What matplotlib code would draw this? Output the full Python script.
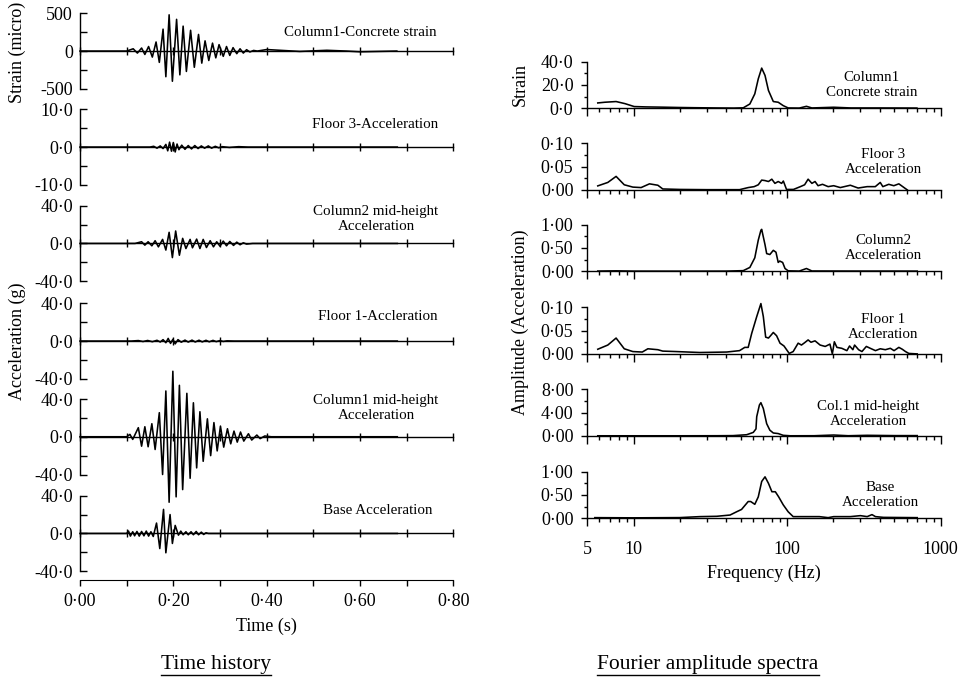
import matplotlib
matplotlib.use("Agg")
import matplotlib.pyplot as plt
from matplotlib.ticker import FixedLocator, FuncFormatter, NullFormatter
from matplotlib.lines import Line2D

plt.rcParams['font.family'] = ['Liberation Serif', 'DejaVu Serif']

W, H = 964, 678

# ---------------- time histories: turning points (time s, value) ----------------
strain_t = [0.0, 0.100, 0.114, 0.123, 0.132, 0.139, 0.147, 0.155, 0.163, 0.170, 0.178, 0.184,
            0.191, 0.198, 0.207, 0.214, 0.221, 0.228, 0.237, 0.245, 0.254, 0.261, 0.268, 0.276,
            0.284, 0.291, 0.298, 0.307, 0.314, 0.321, 0.328, 0.336, 0.343, 0.350, 0.357, 0.364,
            0.372, 0.380, 0.400, 0.457, 0.471, 0.529, 0.571, 0.600, 0.679]
strain_v = [0, 0, 30, -27, 40, -45, 60, -80, 120, -150, 290, -340,
            480, -400, 420, -315, 330, -270, 275, -215, 220, -160, 135, -125,
            105, -90, 85, -70, 60, -58, 45, -35, 30, -27, 18, -12,
            8, 0, 20, 0, -5, 10, 0, -10, 0]

floor3_t = [0.0, 0.150, 0.158, 0.165, 0.172, 0.178, 0.184, 0.188, 0.192, 0.196, 0.200, 0.204,
            0.208, 0.212, 0.218, 0.225, 0.232, 0.239, 0.246, 0.253, 0.260, 0.267, 0.275, 0.282,
            0.290, 0.297, 0.305, 0.320, 0.340, 0.360, 0.680]
floor3_v = [0, 0, 0.2, -0.3, 0.3, -0.4, 0.7, -1.0, 1.3, -1.1, 1.2, -1.3,
            0.8, -0.7, 0.5, -0.6, 0.4, -0.5, 0.4, -0.4, 0.3, -0.3, 0.3, -0.3,
            0.2, -0.2, 0.1, -0.1, 0.1, 0, 0]

col2_t = [0.0, 0.118, 0.132, 0.139, 0.146, 0.154, 0.161, 0.168, 0.177, 0.184, 0.191, 0.198,
          0.205, 0.213, 0.220, 0.227, 0.236, 0.241, 0.250, 0.257, 0.264, 0.271, 0.279, 0.286,
          0.293, 0.300, 0.307, 0.314, 0.321, 0.329, 0.336, 0.343, 0.350, 0.357, 0.370, 0.680]
col2_v = [0, 0, 1.8, -1.8, 1.8, -2.5, 2.9, -3.6, 4.3, -7.0, 11.8, -15.0,
          13.2, -12.5, 5.4, -5.4, 4.3, -4.6, 4.6, -5.4, 4.3, -4.3, 2.9, -3.6,
          1.8, -2.9, 2.5, -2.5, 2.1, -2.1, 1.4, -1.4, 0.7, -0.7, 0, 0]

floor1_t = [0.0, 0.110, 0.125, 0.135, 0.145, 0.155, 0.165, 0.172, 0.178, 0.184, 0.189, 0.194,
            0.199, 0.204, 0.210, 0.217, 0.225, 0.232, 0.240, 0.247, 0.255, 0.262, 0.270, 0.277,
            0.285, 0.292, 0.300, 0.307, 0.315, 0.330, 0.680]
floor1_v = [0, 0, 0.5, -0.5, 0.6, -0.7, 0.8, -1.0, 1.5, -1.8, 2.8, -2.5,
            1.8, -3.0, 1.5, -1.2, 1.0, -1.1, 1.0, -1.0, 0.9, -0.9, 0.8, -0.8,
            0.7, -0.6, 0.5, -0.4, 0.2, 0, 0]

col1_t = [0.0, 0.100, 0.107, 0.113, 0.125, 0.132, 0.139, 0.146, 0.154, 0.161, 0.170, 0.177,
          0.184, 0.191, 0.199, 0.206, 0.213, 0.220, 0.229, 0.236, 0.243, 0.250, 0.257, 0.264,
          0.273, 0.280, 0.287, 0.294, 0.301, 0.308, 0.316, 0.323, 0.330, 0.337, 0.344, 0.351,
          0.361, 0.368, 0.379, 0.386, 0.396, 0.410, 0.680]
col1_v = [0, 0, 2.5, -2.8, 9.6, -10.0, 10.6, -10.6, 13.8, -13.5, 25.5, -40.0,
          48.5, -69.4, 69.4, -63.7, 54.5, -56.0, 46.0, -44.0, 36.0, -33.0, 26.5, -26.0,
          19.0, -20.0, 15.0, -15.0, 11.3, -11.0, 8.5, -7.5, 6.0, -5.7, 5.0, -4.6,
          3.2, -3.5, 1.8, -2.0, 0.8, 0, 0]

base_t = [0.0, 0.100, 0.104, 0.108, 0.113, 0.117, 0.122, 0.127, 0.132, 0.137, 0.142, 0.147,
          0.152, 0.157, 0.164, 0.171, 0.179, 0.184, 0.193, 0.198, 0.204, 0.211, 0.216, 0.221,
          0.227, 0.232, 0.238, 0.243, 0.249, 0.254, 0.260, 0.265, 0.270, 0.275, 0.680]
base_v = [0, 0, 2.5, -2.8, 1.8, -2.5, 2.1, -2.8, 2.1, -2.5, 2.5, -2.8,
          1.8, -3.2, 11.0, -16.0, 25.5, -20.5, 20.0, -10.6, 8.5, -1.8, 2.5, -1.4,
          1.8, -1.4, 1.8, -1.4, 2.1, -1.4, 1.4, -1.1, 0.7, 0, 0]

# ---------------- Fourier amplitude spectra (frequency Hz, amplitude) ----------------
s_strain_f = [5.85, 6.5, 7.7, 8.8, 10.1, 12, 15, 19.7, 25, 35, 45, 51.8, 57.2, 61.6, 64.9,
              68.3, 71.8, 75.6, 81.3, 87.5, 94.3, 101.6, 120, 133.6, 145, 201, 260, 400, 700]
s_strain_a = [4.6, 5.2, 5.8, 4.0, 1.5, 1.2, 1.0, 0.7, 0.5, 0.3, 0.2, 0.4, 3.7, 12.4, 25.3,
              34.5, 28.2, 15.3, 5.8, 5.2, 2.3, 0.3, 0.2, 1.7, 0.3, 0.9, 0.3, 0.3, 0.2]

s_floor3_f = [5.85, 6.8, 7.7, 8.7, 9.9, 11.2, 12.7, 14.4, 15.5, 20, 30, 49, 55.8, 61, 64.9,
              68.3, 71.8, 75.6, 79.5, 83.3, 87.5, 92.1, 94.5, 99.1, 110, 122, 130, 137, 145,
              152, 159, 170, 185, 201, 222, 258, 290, 332, 375, 404, 420, 459, 495, 534, 577, 606]
s_floor3_a = [0.0086, 0.016, 0.029, 0.011, 0.006, 0.005, 0.013, 0.010, 0.002, 0.001, 0.0005,
              0.0005, 0.005, 0.007, 0.011, 0.021, 0.020, 0.018, 0.023, 0.014, 0.018, 0.014, 0.019,
              0.001, 0.001, 0.007, 0.011, 0.023, 0.014, 0.018, 0.009, 0.012, 0.007, 0.009, 0.005,
              0.010, 0.004, 0.007, 0.007, 0.016, 0.007, 0.012, 0.009, 0.013, 0.005, 0.0]

s_col2_f = [5.85, 7.7, 10, 20, 40, 51.8, 57.2, 61.6, 64.9, 67.5, 68.3, 71.8, 73.6, 77.2, 81.3,
            84.6, 87.5, 89.5, 93.5, 96.9, 101.6, 120, 133.6, 145, 200, 300, 500, 703]
s_col2_a = [0.005, 0.01, 0.004, 0.003, 0.004, 0.014, 0.083, 0.29, 0.67, 0.88, 0.90, 0.57, 0.38,
            0.36, 0.45, 0.41, 0.19, 0.22, 0.19, 0.06, 0.01, 0.005, 0.06, 0.007, 0.006, 0.005,
            0.005, 0.004]

s_floor1_f = [5.85, 6.8, 7.7, 8.7, 9.9, 11.4, 12.4, 14.4, 15.5, 19, 27, 40.4, 49, 53, 55.8,
              58.8, 63.4, 67.5, 70, 72.5, 75.6, 78, 81.3, 85.4, 89.9, 95.4, 103.2, 109.5, 118,
              124, 130, 137, 143, 152, 164, 177, 190, 197, 203, 211, 227, 245, 255, 268, 275,
              292, 307, 328, 348, 376, 404, 436, 470, 497, 534, 562, 590, 620, 703]
s_floor1_a = [0.010, 0.019, 0.034, 0.011, 0.005, 0.004, 0.011, 0.009, 0.006, 0.005, 0.003,
              0.004, 0.007, 0.014, 0.014, 0.044, 0.080, 0.108, 0.080, 0.036, 0.034, 0.039, 0.046,
              0.039, 0.023, 0.017, 0.001, 0.005, 0.023, 0.019, 0.024, 0.030, 0.025, 0.028, 0.019,
              0.016, 0.021, 0.0, 0.026, 0.014, 0.012, 0.007, 0.017, 0.009, 0.019, 0.009, 0.005,
              0.016, 0.012, 0.007, 0.011, 0.009, 0.012, 0.007, 0.014, 0.010, 0.005, 0.001, 0.0]

s_col1_f = [5.85, 10, 20, 35, 44.5, 54.5, 60.2, 62.7, 63.4, 66, 67.5, 70, 73.6, 77.2, 81.3,
            87.5, 94.3, 105, 150, 201, 250, 332, 500, 703]
s_col1_a = [0.02, 0.02, 0.02, 0.03, 0.05, 0.2, 0.6, 1.2, 3.3, 5.3, 5.7, 4.7, 2.1, 0.98, 0.5,
            0.4, 0.1, 0.02, 0.03, 0.15, 0.03, 0.1, 0.05, 0.05]

s_base_f = [5.6, 10, 20, 27, 34.8, 42.5, 46.9, 50.5, 55.8, 57.9, 61.6, 64.9, 68.3, 71.8, 75.6,
            79.6, 83.8, 88.1, 94.3, 101.6, 109.5, 122, 162, 185, 201, 258, 300, 332, 357, 376,
            424, 703]
s_base_a = [0.014, 0.01, 0.015, 0.036, 0.043, 0.07, 0.14, 0.19, 0.36, 0.36, 0.30, 0.46, 0.79,
            0.89, 0.75, 0.57, 0.57, 0.46, 0.29, 0.14, 0.036, 0.036, 0.036, 0.014, 0.036, 0.036,
            0.057, 0.036, 0.079, 0.036, 0.02, 0.014]

left_panels = [
    (strain_t, strain_v, 500, 0, "Column1-Concrete strain"),
    (floor3_t, floor3_v, 10, 1, "Floor 3-Acceleration"),
    (col2_t, col2_v, 40, 1, "Column2 mid-height\nAcceleration"),
    (floor1_t, floor1_v, 40, 1, "Floor 1-Accleration"),
    (col1_t, col1_v, 40, 1, "Column1 mid-height\nAcceleration"),
    (base_t, base_v, 40, 1, "Base Acceleration"),
]
left_tops = [13.3, 109.3, 205.7, 303.3, 399.0, 495.7]
left_text_xy = [(360, 32), (375, 124), (376, 219), (378, 317), (376, 408), (378, 511)]

right_panels = [
    (s_strain_f, s_strain_a, 40, 1, "Column1\nConcrete strain"),
    (s_floor3_f, s_floor3_a, 0.10, 2, "Floor 3\nAcceleration"),
    (s_col2_f, s_col2_a, 1.0, 2, "Column2\nAcceleration"),
    (s_floor1_f, s_floor1_a, 0.10, 2, "Floor 1\nAccleration"),
    (s_col1_f, s_col1_a, 8.0, 2, "Col.1 mid-height\nAcceleration"),
    (s_base_f, s_base_a, 1.0, 2, "Base\nAcceleration"),
]
right_tops = [61.7, 143.3, 224.7, 307.3, 389.3, 471.7]
right_text_xy = [(872, 85), (883, 162), (883, 248), (883, 327), (868, 414), (880, 495)]

fig = plt.figure(figsize=(W / 100, H / 100), dpi=100)


def px_axes(x0, y0, x1, y1):
    return fig.add_axes([x0 / W, 1 - y1 / H, (x1 - x0) / W, (y1 - y0) / H])


def dotfmt(nd):
    return FuncFormatter(lambda v, p: f"{v + 0.0:.{nd}f}".replace('.', '\u00b7'))


TICK_FS = 13
NOTE_FS = 10.8
LAB_FS = 13
LW = 1.15
time_ticks = [0.0, 0.1, 0.2, 0.3, 0.4, 0.5, 0.6, 0.7, 0.8]

# ---------------- left column: time histories ----------------
for (t, v, lim, nd, note), top, (tx, ty) in zip(left_panels, left_tops, left_text_xy):
    ax = px_axes(80, top, 453.3, top + 75.5)
    ax.plot(t, v, color='black', lw=LW, clip_on=False, solid_joinstyle='round', zorder=3)
    ax.set_xlim(0, 0.8)
    ax.set_ylim(-lim, lim)
    ax.patch.set_visible(False)
    for s in ('top', 'right'):
        ax.spines[s].set_visible(False)
    ax.spines['bottom'].set_position(('data', 0))
    ax.xaxis.set_major_locator(FixedLocator(time_ticks))
    ax.xaxis.set_major_formatter(NullFormatter())
    ax.tick_params(axis='x', direction='inout', length=6, width=1)
    ax.yaxis.set_major_locator(FixedLocator([-lim, 0, lim]))
    ax.yaxis.set_minor_locator(FixedLocator([-lim / 2, lim / 2]))
    ax.yaxis.set_major_formatter(dotfmt(nd))
    ax.tick_params(axis='y', which='both', direction='in', length=5, width=1,
                   labelsize=TICK_FS, pad=5)
    for sp in ax.spines.values():
        sp.set_linewidth(1)
    fig.text(tx / W, 1 - ty / H, note, ha='center', va='center', fontsize=NOTE_FS,
             linespacing=1.15)

# time axis below the panels
axt = px_axes(80, 578.5, 453.3, 579.5)
axt.set_xlim(0, 0.8)
axt.set_ylim(0, 1)
axt.patch.set_visible(False)
for s in ('top', 'right', 'left'):
    axt.spines[s].set_visible(False)
axt.set_yticks([])
axt.xaxis.set_major_locator(FixedLocator(time_ticks))
axt.xaxis.set_major_formatter(FuncFormatter(
    lambda v, p: f"{v:.2f}".replace('.', '\u00b7') if round(v * 10) % 2 == 0 else ""))
axt.tick_params(axis='x', direction='out', length=4, width=1, labelsize=TICK_FS, pad=6)
axt.set_xlabel("Time (s)", fontsize=LAB_FS, labelpad=5)

fig.text(17 / W, 1 - 52 / H, "Strain (micro)", rotation=90, ha='center', va='center',
         fontsize=13)
fig.text(17 / W, 1 - 341 / H, "Acceleration (g)", rotation=90, ha='center', va='center',
         fontsize=LAB_FS)

# ---------------- right column: spectra ----------------
minor_f = [6, 7, 8, 9, 20, 30, 40, 50, 60, 70, 80, 90, 200, 300, 400, 500, 600, 700, 800, 900]
for i, ((f, a, top_v, nd, note), top, (tx, ty)) in enumerate(
        zip(right_panels, right_tops, right_text_xy)):
    ax = px_axes(587.3, top, 940.7, top + 46.6)
    ax.plot(f, a, color='black', lw=LW, clip_on=False, solid_joinstyle='round', zorder=3)
    ax.set_xscale('log')
    ax.set_xlim(5, 1000)
    ax.set_ylim(0, top_v)
    ax.patch.set_visible(False)
    for s in ('top', 'right'):
        ax.spines[s].set_visible(False)
    for sp in ax.spines.values():
        sp.set_linewidth(1)
    ax.xaxis.set_major_locator(FixedLocator([5, 10, 100, 1000]))
    ax.xaxis.set_minor_locator(FixedLocator(minor_f))
    ax.xaxis.set_minor_formatter(NullFormatter())
    if i == len(right_panels) - 1:
        ax.xaxis.set_major_formatter(FuncFormatter(lambda v, p: f"{v:g}"))
        ax.set_xlabel("Frequency (Hz)", fontsize=LAB_FS, labelpad=5)
    else:
        ax.xaxis.set_major_formatter(NullFormatter())
    ax.tick_params(axis='x', which='major', direction='out', length=5.5, width=1,
                   labelsize=TICK_FS, pad=11)
    ax.tick_params(axis='x', which='minor', direction='out', length=3, width=1)
    ax.yaxis.set_major_locator(FixedLocator([0, top_v / 2, top_v]))
    ax.yaxis.set_minor_locator(FixedLocator([top_v / 4, 3 * top_v / 4]))
    ax.yaxis.set_major_formatter(dotfmt(nd))
    ax.tick_params(axis='y', which='major', direction='out', length=4, width=1,
                   labelsize=TICK_FS, pad=6)
    ax.tick_params(axis='y', which='minor', direction='out', length=2.5, width=1)
    fig.text(tx / W, 1 - ty / H, note, ha='center', va='center', fontsize=NOTE_FS,
             linespacing=1.15)

fig.text(520 / W, 1 - 85 / H, "Strain", rotation=90, ha='center', va='center',
         fontsize=LAB_FS)
fig.text(520 / W, 1 - 322 / H, "Amplitude (Acceleration)", rotation=90, ha='center',
         va='center', fontsize=LAB_FS)

# ---------------- underlined captions ----------------
cap1 = fig.text(216 / W, 1 - 664 / H, "Time history", ha='center', va='center', fontsize=15.5)
cap2 = fig.text(708 / W, 1 - 664 / H, "Fourier amplitude spectra", ha='center', va='center',
                fontsize=15.5)
fig.canvas.draw()
for cap in (cap1, cap2):
    bb = cap.get_window_extent()
    y = (bb.y0 - 1) / H
    fig.add_artist(Line2D([bb.x0 / W, bb.x1 / W], [y, y], color='black', lw=1,
                          transform=fig.transFigure))

fig.savefig("out.png", dpi=100)
